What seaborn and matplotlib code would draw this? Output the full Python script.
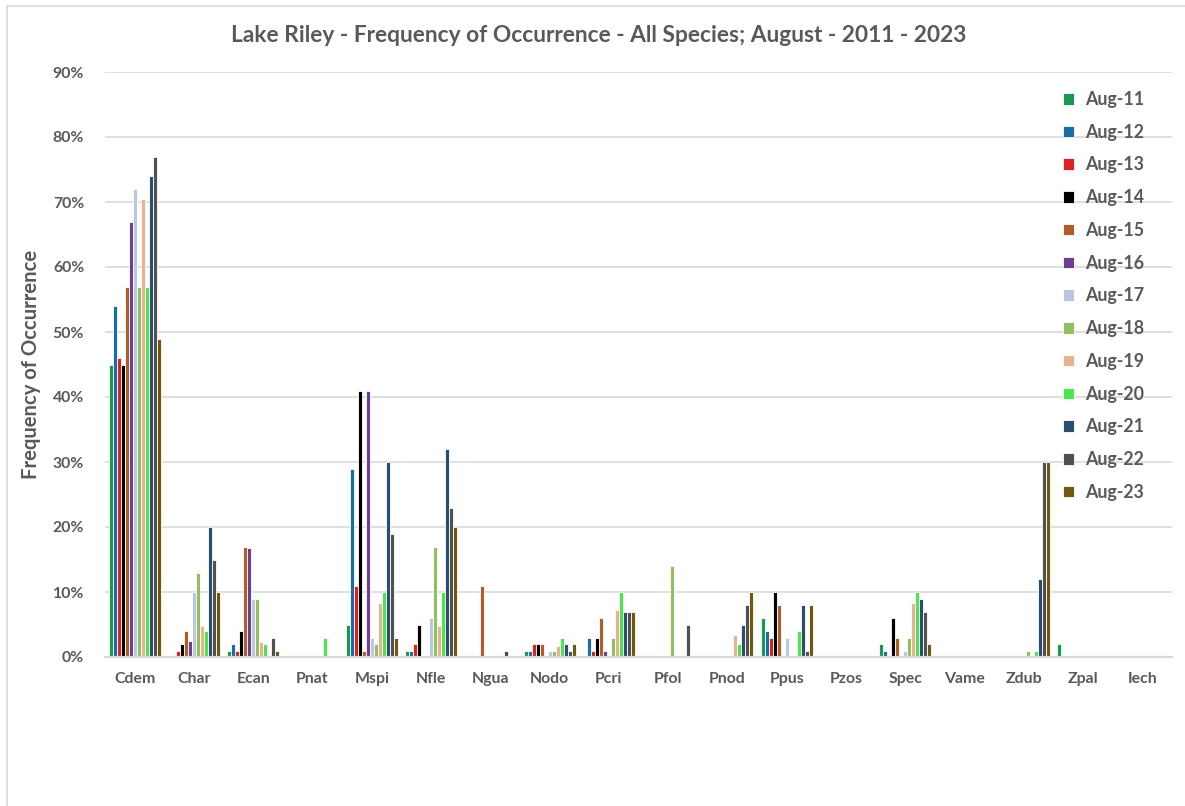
import matplotlib
matplotlib.use("Agg")
import matplotlib.pyplot as plt
from matplotlib.patches import Rectangle
from matplotlib.ticker import PercentFormatter
import pandas as pd
import seaborn as sns

species = ["Cdem", "Char", "Ecan", "Pnat", "Mspi", "Nfle", "Ngua", "Nodo", "Pcri",
           "Pfol", "Pnod", "Ppus", "Pzos", "Spec", "Vame", "Zdub", "Zpal", "Iech"]

# Frequency of occurrence (%) per species, one list per August survey
aug_11 = [45, 0, 1, 0, 5, 1, 0, 1, 0, 0, 0, 6, 0, 2, 0, 0, 2, 0]
aug_12 = [54, 0, 2, 0, 29, 1, 0, 1, 3, 0, 0, 4, 0, 1, 0, 0, 0, 0]
aug_13 = [46, 1, 1, 0, 11, 2, 0, 2, 1, 0, 0, 3, 0, 0, 0, 0, 0, 0]
aug_14 = [45, 2, 4, 0, 41, 5, 0, 2, 3, 0, 0, 10, 0, 6, 0, 0, 0, 0]
aug_15 = [57, 4, 17, 0, 1, 0, 11, 2, 6, 0, 0, 8, 0, 3, 0, 0, 0, 0]
aug_16 = [67, 2.5, 16.8, 0, 41, 0, 0, 0, 1, 0, 0, 0, 0, 0, 0, 0, 0, 0]
aug_17 = [72, 10, 9, 0, 3, 6, 0, 1, 0, 0, 0, 3, 0, 1, 0, 0, 0, 0]
aug_18 = [57, 13, 9, 0, 2, 17, 0, 1, 3, 14, 0, 0, 0, 3, 0, 1, 0, 0]
aug_19 = [70.4, 4.7, 2.3, 0, 8.3, 4.7, 0, 1.7, 7.2, 0, 3.4, 0, 0, 8.3, 0, 0, 0, 0]
aug_20 = [57, 4, 2, 3, 10, 10, 0, 3, 10, 0, 2, 4, 0, 10, 0, 1, 0, 0]
aug_21 = [74, 20, 0, 0, 30, 32, 1, 2, 7, 0, 5, 8, 0, 9, 0, 12, 0, 0]
aug_22 = [77, 15, 3, 0, 19, 23, 0, 1, 7, 5, 8, 1, 0, 7, 0, 30, 0, 0]
aug_23 = [49, 10, 1, 0, 3, 20, 0, 2, 7, 0, 10, 8, 0, 2, 0, 30, 0, 0]

years = ["Aug-11", "Aug-12", "Aug-13", "Aug-14", "Aug-15", "Aug-16", "Aug-17",
         "Aug-18", "Aug-19", "Aug-20", "Aug-21", "Aug-22", "Aug-23"]
series = [aug_11, aug_12, aug_13, aug_14, aug_15, aug_16, aug_17,
          aug_18, aug_19, aug_20, aug_21, aug_22, aug_23]
colors = ["#00B050", "#0070C0", "#FF0000", "#000000", "#C55A11", "#7030A0", "#B4C7E7",
          "#92D050", "#F4B183", "#33FF33", "#1F4E79", "#505050", "#7F6000"]

rows = []
for yr, vals in zip(years, series):
    for sp, v in zip(species, vals):
        rows.append({"species": sp, "year": yr, "freq": v / 100.0})
df = pd.DataFrame(rows)

sns.set_style("white")
plt.rcParams["font.family"] = ["Lato", "DejaVu Sans"]
plt.rcParams["font.weight"] = "bold"

TEXT = "#595959"
GRID = "#D9D9D9"

W, H = 1185, 806
AX_L, AX_R, AX_T, AX_B = 105, 1172, 72, 657
fig = plt.figure(figsize=(W / 100, H / 100), dpi=100)
ax = fig.add_axes([AX_L / W, 1 - AX_B / H, (AX_R - AX_L) / W, (AX_B - AX_T) / H])

sns.barplot(data=df, x="species", y="freq", hue="year", order=species,
            hue_order=years, palette=colors, width=0.88, errorbar=None,
            edgecolor="white", linewidth=0.6, ax=ax)

ax.set_ylim(0, 0.9)
ax.set_xlim(-0.5, len(species) - 0.5)
ax.set_yticks([i / 10 for i in range(10)])
ax.yaxis.set_major_formatter(PercentFormatter(1.0, decimals=0))
ax.grid(axis="y", color=GRID, linewidth=1.2)
ax.set_axisbelow(True)
for side in ["top", "right", "left"]:
    ax.spines[side].set_visible(False)
ax.spines["bottom"].set_color(GRID)
ax.spines["bottom"].set_linewidth(1.6)
ax.tick_params(axis="both", length=0, colors=TEXT, labelsize=11.4)
ax.tick_params(axis="y", pad=15)
ax.tick_params(axis="x", pad=11)
for lab in ax.get_xticklabels() + ax.get_yticklabels():
    lab.set_fontweight("bold")
ax.set_xlabel("")
ax.set_ylabel("Frequency of Occurrence", fontsize=14.6, fontweight="bold", color=TEXT)
ax.yaxis.set_label_coords((41 - AX_L) / (AX_R - AX_L), 0.5)

handles, labels = ax.get_legend_handles_labels()
ax.legend(handles, labels, loc="upper left", bbox_to_anchor=(1047 / W, 1 - 75 / H),
          bbox_transform=fig.transFigure, frameon=False,
          handlelength=0.62, handleheight=0.62, handletextpad=0.6,
          labelspacing=0.885, labelcolor=TEXT, prop={"weight": "bold", "size": 12.8})

fig.text(0.505, 1 - 36 / H, "Lake Riley - Frequency of Occurrence - All Species; August - 2011 - 2023",
         ha="center", va="center", fontsize=16.4, fontweight="bold", color=TEXT)

# chart-area frame
fig.patches.append(Rectangle((7 / W, -0.1), 1.2, 1 - 6 / H + 0.1, transform=fig.transFigure,
                             fill=False, edgecolor=GRID, linewidth=1.2))

fig.savefig("out.png", dpi=100)
